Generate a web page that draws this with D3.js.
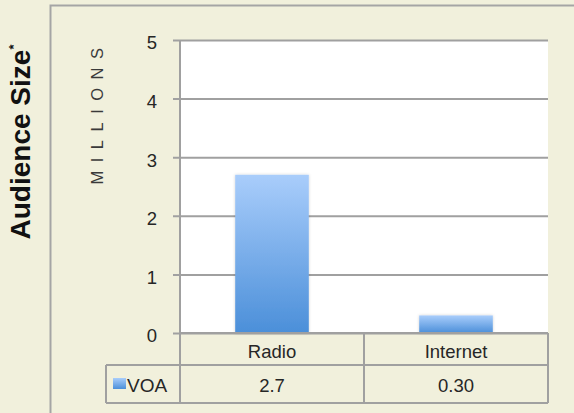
<!DOCTYPE html>
<html><head><meta charset="utf-8">
<script src="https://cdn.jsdelivr.net/npm/d3@7"></script>
<style>
html,body{margin:0;padding:0;background:#f1f0dc;}
svg{display:block;}
text{font-family:"Liberation Sans",Arial,sans-serif;}
</style></head>
<body><svg id="c" width="574" height="413"></svg>
<script>
const categories = ["Radio", "Internet"];
const seriesName = "VOA";
const values = [2.7, 0.30];
const valueLabels = ["2.7", "0.30"];
const yTicks = [0, 1, 2, 3, 4, 5];

const svg = d3.select("#c");
const W = 574, H = 413;
const L = 180, R = 548, T = 40, B = 333;
const txt = "#262626";

// gradient
const defs = svg.append("defs");
const g = defs.append("linearGradient").attr("id","bar").attr("x1",0).attr("y1",0).attr("x2",0).attr("y2",1);
g.append("stop").attr("offset","0%").attr("stop-color","#a9cdfb");
g.append("stop").attr("offset","100%").attr("stop-color","#4b8fd9");
const f = defs.append("filter").attr("id","sh").attr("x","-20%").attr("y","-20%").attr("width","140%").attr("height","140%");
f.append("feDropShadow").attr("dx",0).attr("dy",0).attr("stdDeviation",1.5).attr("flood-color","#000").attr("flood-opacity",0.18);

// outer frame
svg.append("path").attr("d",`M50.5,${H} V5.5 H${W}`).attr("fill","none").attr("stroke","#a5a5a5").attr("stroke-width",2);

// plot bg
svg.append("rect").attr("x",L).attr("y",T).attr("width",R-L).attr("height",B-T).attr("fill","#fff");

const x = d3.scaleBand().domain(categories).range([L, R]).paddingInner(0).paddingOuter(0);
const y = d3.scaleLinear().domain([0, 5]).range([B, T]);

// grid
const yAxis = d3.axisLeft(y).tickValues(yTicks).tickSize(-(R-L)).tickFormat(d3.format("d")).tickPadding(23);
const ya = svg.append("g").attr("transform",`translate(${L},0)`).call(yAxis);
ya.select(".domain").remove();
ya.selectAll(".tick line").attr("stroke","#a0a0a0").attr("stroke-width",2).attr("x1",-7);
ya.selectAll(".tick text").attr("font-size",18.5).attr("fill",txt).attr("font-family","'Liberation Sans',Arial,sans-serif").attr("dy","0.48em");

// left axis line
svg.append("line").attr("x1",L).attr("x2",L).attr("y1",T).attr("y2",403).attr("stroke","#a0a0a0").attr("stroke-width",2);

// bars
const bw = x.bandwidth()*0.4;
svg.selectAll("rect.bar").data(values).enter().append("rect").attr("class","bar")
  .attr("x",(d,i)=>x(categories[i])+(x.bandwidth()-bw)/2)
  .attr("y",d=>y(d)).attr("width",bw).attr("height",d=>B-y(d))
  .attr("fill","url(#bar)").attr("filter","url(#sh)");

// table
const rowA = 365, rowB = 403, legL = 106;
const tcol = "#a0a0a0";
svg.append("line").attr("x1",L).attr("x2",R).attr("y1",B).attr("y2",B).attr("stroke",tcol).attr("stroke-width",2);
svg.append("line").attr("x1",legL).attr("x2",R).attr("y1",rowA).attr("y2",rowA).attr("stroke",tcol).attr("stroke-width",2);
svg.append("line").attr("x1",legL).attr("x2",R).attr("y1",rowB).attr("y2",rowB).attr("stroke",tcol).attr("stroke-width",2);
svg.append("line").attr("x1",legL).attr("x2",legL).attr("y1",rowA).attr("y2",rowB).attr("stroke",tcol).attr("stroke-width",2);
categories.forEach(c=>{
  svg.append("line").attr("x1",x(c)+x.bandwidth()).attr("x2",x(c)+x.bandwidth()).attr("y1",B).attr("y2",rowB).attr("stroke",tcol).attr("stroke-width",2);
});
svg.selectAll("text.cat").data(categories).enter().append("text").attr("class","cat")
  .attr("x",d=>x(d)+x.bandwidth()/2).attr("y",358).attr("text-anchor","middle")
  .attr("font-size",18.5).attr("fill",txt).text(d=>d);
svg.selectAll("text.val").data(valueLabels).enter().append("text").attr("class","val")
  .attr("x",(d,i)=>x(categories[i])+x.bandwidth()/2).attr("y",392).attr("text-anchor","middle")
  .attr("font-size",18.5).attr("fill",txt).text(d=>d);
svg.append("rect").attr("x",113).attr("y",378).attr("width",13).attr("height",11).attr("fill","url(#bar)");
svg.append("text").attr("x",127).attr("y",392).attr("font-size",19).attr("fill",txt).text(seriesName);

// axis titles
svg.append("text").attr("transform","translate(103,112) rotate(-90)").attr("text-anchor","middle")
  .attr("font-size",16.5).attr("letter-spacing","8.5px").attr("fill","#3a3a3a").text("MILLIONS");
const at = svg.append("text").attr("transform","translate(30,142) rotate(-90)").attr("text-anchor","middle")
  .attr("font-size",28).attr("font-weight","bold").attr("fill","#111");
at.append("tspan").text("Audience Size");
at.append("tspan").attr("font-size",13).attr("dy","-12").text("*");
</script></body></html>
